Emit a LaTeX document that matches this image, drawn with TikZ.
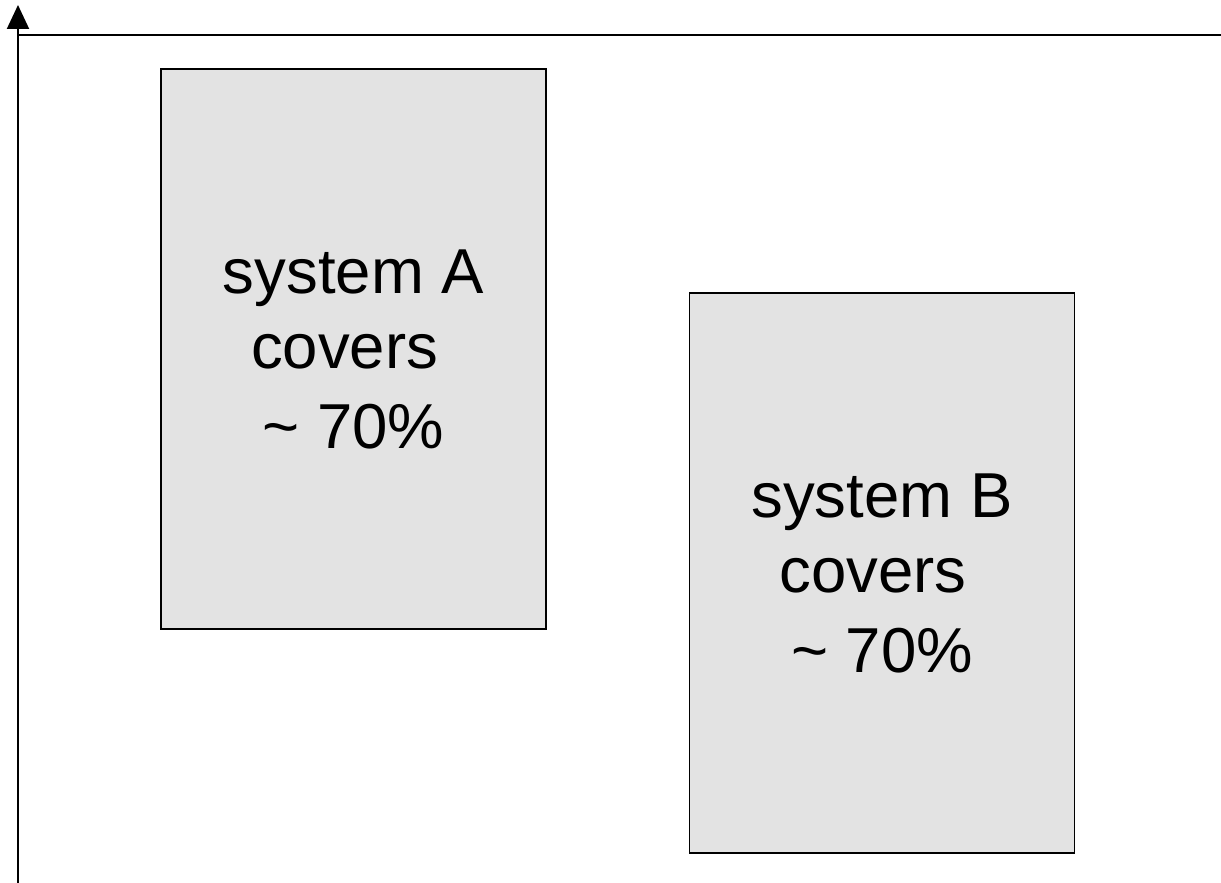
\documentclass[tikz,border=0pt]{standalone}
\usepackage{fontspec}
\setmainfont{Liberation Sans}
\usetikzlibrary{arrows.meta}
\definecolor{boxgray}{HTML}{E3E3E3}
\newcommand{\trailsp}{\kern0.278em\hbox{}}
\begin{document}
\begin{tikzpicture}[x=1pt,y=1pt,
  sysbox/.style={draw=black, line width=1.5pt, fill=boxgray,
    minimum width=385pt, minimum height=560pt, inner sep=0pt,
    align=center, font=\fontsize{63.5pt}{75pt}\selectfont},
  axisline/.style={line width=2pt, black}]
  \useasboundingbox (0,0) rectangle (1221,883);
  % axes
  \coordinate (yb) at (18,0);
  \coordinate (yt) at (18,878);
  \coordinate (hl) at (18,848);
  \coordinate (hr) at (1221,848);
  \draw[axisline, -{Triangle[width=22pt,length=24pt]}] (yb) -- (yt);
  \draw[axisline] (hl) -- (hr);
  % coverage boxes
  \node[sysbox] (A) at (353.5,534) {system A\\covers\trailsp\\[5pt]\textasciitilde\ 70\%};
  \node[sysbox] (B) at (882,310) {system B\\covers\trailsp\\[5pt]\textasciitilde\ 70\%};
\end{tikzpicture}
\end{document}
